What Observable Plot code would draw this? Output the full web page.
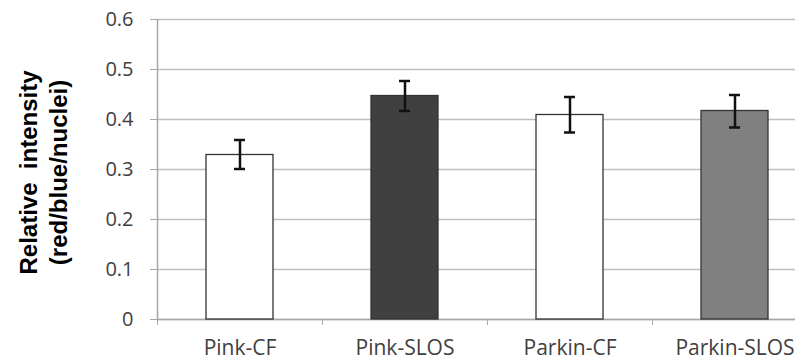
<!DOCTYPE html>
<html>
<head>
<meta charset="utf-8">
<script src="https://cdn.jsdelivr.net/npm/d3@7"></script>
<script src="https://cdn.jsdelivr.net/npm/@observablehq/plot@0.6"></script>
<style>
  html, body { margin: 0; padding: 0; background: white; overflow: hidden; }
</style>
</head>
<body>
<div id="chart"></div>
<script>
// ---- data ----
const categories = ["Pink-CF", "Pink-SLOS", "Parkin-CF", "Parkin-SLOS"];
const means = [0.329, 0.447, 0.409, 0.417];
const errLow = [0.301, 0.417, 0.374, 0.384];
const errHigh = [0.359, 0.477, 0.445, 0.449];
const yTicks = [0, 0.1, 0.2, 0.3, 0.4, 0.5, 0.6];
const yTitle = ["Relative\u00a0 intensity", "(red/blue/nuclei)"];

// ---- styling / layout ----
const barFills = ["#ffffff", "#404040", "#ffffff", "#808080"];
const W = 795, H = 360;
const mL = 157, mR = -22, mT = 19, mB = 41;
const padInner = 0.594;
const step = (W - mL - mR) / categories.length;
const bandwidth = step * (1 - padInner);
const capWidth = 11;
const capInset = (bandwidth - capWidth) / 2;
const axisGray = "#a6a6a6";
const textGray = "#404040";
const tickFont = "Open Sans";

const rows = categories.map((c, i) => ({cat: c, mean: means[i], lo: errLow[i], hi: errHigh[i]}));

const chart = Plot.plot({
  width: W, height: H,
  marginLeft: mL, marginRight: mR, marginTop: mT, marginBottom: mB,
  style: {background: "white"},
  x: {domain: categories, paddingInner: padInner, paddingOuter: padInner / 2, axis: null},
  y: {domain: [0, 0.6], axis: null},
  color: {domain: categories, range: barFills},
  marks: [
    Plot.gridY(yTicks, {stroke: "#bfbfbf", strokeOpacity: 1, strokeWidth: 1.6}),
    Plot.ruleY([0], {stroke: axisGray, strokeWidth: 1.5}),
    Plot.ruleX([categories[0]], {x: d => d, dx: -step / 2, y1: 0, y2: 0.6, stroke: axisGray, strokeWidth: 1.5}),
    Plot.axisY(yTicks, {
      tickSize: 7, tickPadding: 17, stroke: axisGray, fill: textGray,
      tickFormat: d3.format("~g"),
      fontSize: 20, fontFamily: tickFont, label: null
    }),
    Plot.axisX({
      tickSize: 6, tickFormat: () => "", dx: -step / 2, stroke: axisGray, label: null
    }),
    Plot.axisX({
      tickSize: 0, tickPadding: 21, fill: textGray,
      fontSize: 21, fontFamily: tickFont, label: null
    }),
    Plot.barY(rows, {x: "cat", y: "mean", fill: "cat", stroke: "#333333", strokeWidth: 1.3}),
    Plot.ruleX(rows, {x: "cat", y1: "lo", y2: "hi", stroke: "#111111", strokeWidth: 2.5}),
    Plot.tickY(rows, {x: "cat", y: "lo", stroke: "#111111", strokeWidth: 2.5, insetLeft: capInset, insetRight: capInset}),
    Plot.tickY(rows, {x: "cat", y: "hi", stroke: "#111111", strokeWidth: 2.5, insetLeft: capInset, insetRight: capInset}),
    Plot.text([yTitle.join("\n")], {
      frameAnchor: "left", rotate: -90, dx: -115, dy: 3,
      fontSize: 24, fontWeight: "bold", fontFamily: "Liberation Sans",
      lineHeight: 1.25, fill: "#000000", textAnchor: "middle"
    })
  ]
});

document.getElementById("chart").appendChild(chart);
</script>
</body>
</html>
